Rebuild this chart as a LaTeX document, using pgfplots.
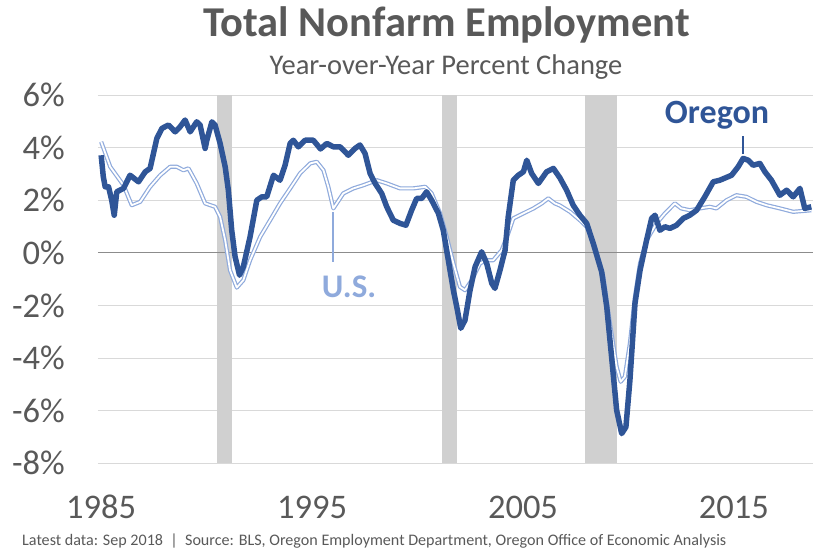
\documentclass[border=0pt]{standalone}
\usepackage{pgfplots}
\pgfplotsset{compat=1.18}
\usepackage{fontspec}
\setmainfont{Carlito}
\definecolor{orblue}{HTML}{2F5597}
\definecolor{usblue}{HTML}{8FAADC}
\definecolor{txtgray}{HTML}{595959}
\definecolor{recgray}{HTML}{D0D0D0}
\definecolor{gridgray}{HTML}{D9D9D9}
\definecolor{zerogray}{HTML}{8C8C8C}
\begin{document}
\begin{tikzpicture}
\useasboundingbox (-98bp,-89.7bp) rectangle (715bp,463.3bp);
\begin{axis}[
  at={(0,0)}, anchor=south west,
  scale only axis, width=715bp, height=368.3bp,
  xmin=1984.85, xmax=2018.75, ymin=-8, ymax=6,
  axis line style={draw=none},
  major tick length=0pt,
  xtick={1985,1995,2005,2015},
  xticklabels={1985,1995,2005,2015},
  ytick={-8,-6,-4,-2,0,2,4,6},
  yticklabels={-8\%,-6\%,-4\%,-2\%,0\%,2\%,4\%,6\%},
  ymajorgrids, grid style={gridgray, line width=1bp},
  xticklabel style={font=\fontsize{34.5bp}{40bp}\selectfont, text=txtgray, anchor=base, inner sep=0pt, yshift=-55bp},
  yticklabel style={font=\fontsize{34.5bp}{40bp}\selectfont, text=txtgray, anchor=east, inner sep=0pt, xshift=-33bp},
  clip=false,
]
% recession bars
\addplot [fill=recgray, draw=none] coordinates {(1990.5,-8) (1990.5,6) (1991.2,6) (1991.2,-8)} -- cycle;
\addplot [fill=recgray, draw=none] coordinates {(2001.17,-8) (2001.17,6) (2001.88,6) (2001.88,-8)} -- cycle;
\addplot [fill=recgray, draw=none] coordinates {(2007.92,-8) (2007.92,6) (2009.45,6) (2009.45,-8)} -- cycle;
% zero line
\addplot [zerogray, line width=1.2bp] coordinates {(1984.85,0) (2018.75,0)};
% U.S.
\addplot [usblue, line width=1.2bp, double=white, double distance=1.8bp, line join=round] coordinates {
(1985.00,4.22) (1985.43,3.27) (1986.06,2.57) (1986.45,1.81) (1986.85,1.94) (1987.32,2.51)
(1987.80,2.95) (1988.27,3.27) (1988.59,3.27) (1988.90,3.14) (1989.14,3.21) (1989.53,2.64)
(1989.93,1.88) (1990.40,1.75) (1990.64,1.37) (1990.88,0.48) (1991.11,-0.66) (1991.43,-1.32)
(1991.74,-1.04) (1992.06,-0.28) (1992.54,0.61) (1993.01,1.24) (1993.48,1.88) (1993.96,2.45)
(1994.43,3.02) (1994.91,3.40) (1995.22,3.46) (1995.54,3.14) (1995.77,2.51) (1996.01,1.69)
(1996.48,2.26) (1996.96,2.45) (1997.43,2.57) (1998.07,2.76) (1998.54,2.64) (1999.17,2.45)
(1999.80,2.45) (2000.36,2.51) (2000.67,2.26) (2001.07,1.50) (2001.38,0.61) (2001.70,-0.40)
(2002.01,-1.29) (2002.25,-1.42) (2002.57,-1.04) (2002.96,-0.40) (2003.28,-0.28) (2003.59,-0.28)
(2003.99,0.10) (2004.30,0.74) (2004.54,1.31) (2005.02,1.50) (2005.50,1.69) (2005.89,1.88)
(2006.20,2.07) (2006.51,1.88) (2006.75,1.80) (2007.23,1.56) (2007.70,1.24) (2008.02,0.99)
(2008.41,0.23) (2008.81,-0.91) (2009.12,-2.68) (2009.44,-4.33) (2009.63,-4.90) (2009.83,-4.71)
(2010.07,-3.44) (2010.31,-1.67) (2010.55,-0.40) (2010.86,0.48) (2011.33,1.12) (2011.73,1.50)
(2012.20,1.88) (2012.50,1.69) (2012.91,1.62) (2013.39,1.69) (2013.86,1.75) (2014.17,1.69)
(2014.65,2.00) (2015.12,2.19) (2015.59,2.13) (2016.07,1.94) (2016.55,1.81) (2017.18,1.69)
(2017.81,1.56) (2018.67,1.62)
};
% Oregon
\addplot [orblue, line width=5.5bp, line join=round] coordinates {
(1985.00,3.71) (1985.10,2.90) (1985.19,2.51) (1985.35,2.51) (1985.50,2.00) (1985.62,1.43)
(1985.74,2.32) (1986.06,2.45) (1986.37,2.95) (1986.77,2.70) (1987.09,3.08) (1987.32,3.21)
(1987.64,4.35) (1987.88,4.73) (1988.19,4.86) (1988.51,4.60) (1988.74,4.79) (1988.98,5.05)
(1989.22,4.60) (1989.53,4.98) (1989.69,4.86) (1989.93,3.97) (1990.01,4.28) (1990.25,4.98)
(1990.40,4.86) (1990.64,4.16) (1990.88,3.27) (1991.03,2.38) (1991.19,0.86) (1991.35,-0.15)
(1991.56,-0.85) (1991.74,-0.53) (1992.06,0.61) (1992.38,2.00) (1992.62,2.13) (1992.85,2.13)
(1993.17,2.95) (1993.48,2.76) (1993.72,3.33) (1993.96,4.16) (1994.11,4.28) (1994.35,4.03)
(1994.67,4.28) (1995.06,4.28) (1995.40,3.95) (1995.70,4.16) (1996.01,4.03) (1996.33,4.03)
(1996.72,3.71) (1997.04,3.97) (1997.27,4.10) (1997.51,3.78) (1997.75,3.02) (1997.99,2.64)
(1998.30,2.26) (1998.54,1.75) (1998.85,1.24) (1999.17,1.12) (1999.45,1.05) (1999.72,1.62)
(1999.96,2.07) (2000.20,2.07) (2000.43,2.32) (2000.67,2.00) (2000.99,1.50) (2001.22,0.86)
(2001.46,-0.28) (2001.70,-1.42) (2001.89,-2.18) (2002.05,-2.87) (2002.25,-2.56) (2002.49,-1.42)
(2002.73,-0.53) (2003.04,0.04) (2003.28,-0.40) (2003.52,-1.16) (2003.67,-1.35) (2003.91,-0.66)
(2004.15,0.10) (2004.30,1.37) (2004.54,2.76) (2004.78,2.95) (2005.02,3.08) (2005.18,3.52)
(2005.41,3.02) (2005.73,2.64) (2006.12,3.08) (2006.44,3.21) (2006.75,2.85) (2007.07,2.38)
(2007.38,1.81) (2007.70,1.43) (2008.02,1.12) (2008.33,0.36) (2008.73,-0.72) (2008.97,-2.05)
(2009.20,-3.95) (2009.44,-5.98) (2009.68,-6.87) (2009.88,-6.62) (2010.07,-4.84) (2010.31,-1.92)
(2010.55,-0.66) (2010.86,0.48) (2011.10,1.31) (2011.26,1.43) (2011.49,0.86) (2011.73,0.99)
(2011.97,0.93) (2012.28,1.05) (2012.60,1.31) (2012.91,1.43) (2013.23,1.62) (2013.62,2.13)
(2014.02,2.70) (2014.33,2.76) (2014.89,2.95) (2015.20,3.27) (2015.44,3.59) (2015.68,3.52)
(2015.91,3.33) (2016.23,3.40) (2016.47,3.08) (2016.78,2.76) (2017.18,2.19) (2017.50,2.38)
(2017.81,2.13) (2018.13,2.45) (2018.36,1.69) (2018.67,1.75)
};
% pointers
\addplot [usblue, line width=1.5bp] coordinates {(1996.0,1.55) (1996.0,-0.35)};
\addplot [orblue, line width=1.5bp] coordinates {(2015.44,3.75) (2015.44,4.44)};
\node [font=\fontsize{33bp}{40bp}\selectfont\bfseries, text=usblue] at (axis cs:1996.75,-1.30) {U.S.};
\node [font=\fontsize{34bp}{40bp}\selectfont\bfseries, text=orblue] at (axis cs:2014.2,5.24) {Oregon};
\end{axis}
\node [font=\fontsize{42.5bp}{48bp}\selectfont\bfseries, text=txtgray, anchor=base] at (348.5bp,426.6bp) {Total Nonfarm Employment};
\node [font=\fontsize{28.5bp}{34bp}\selectfont, text=txtgray, anchor=base] at (348bp,388.3bp) {Year-over-Year Percent Change};
\node [font=\fontsize{16.1bp}{19bp}\selectfont, text=txtgray, anchor=base west, inner sep=0pt] at (-76bp,-81.7bp) {Latest data: Sep 2018~~|~~Source: BLS, Oregon Employment Department, Oregon Office of Economic Analysis};
\end{tikzpicture}
\end{document}
